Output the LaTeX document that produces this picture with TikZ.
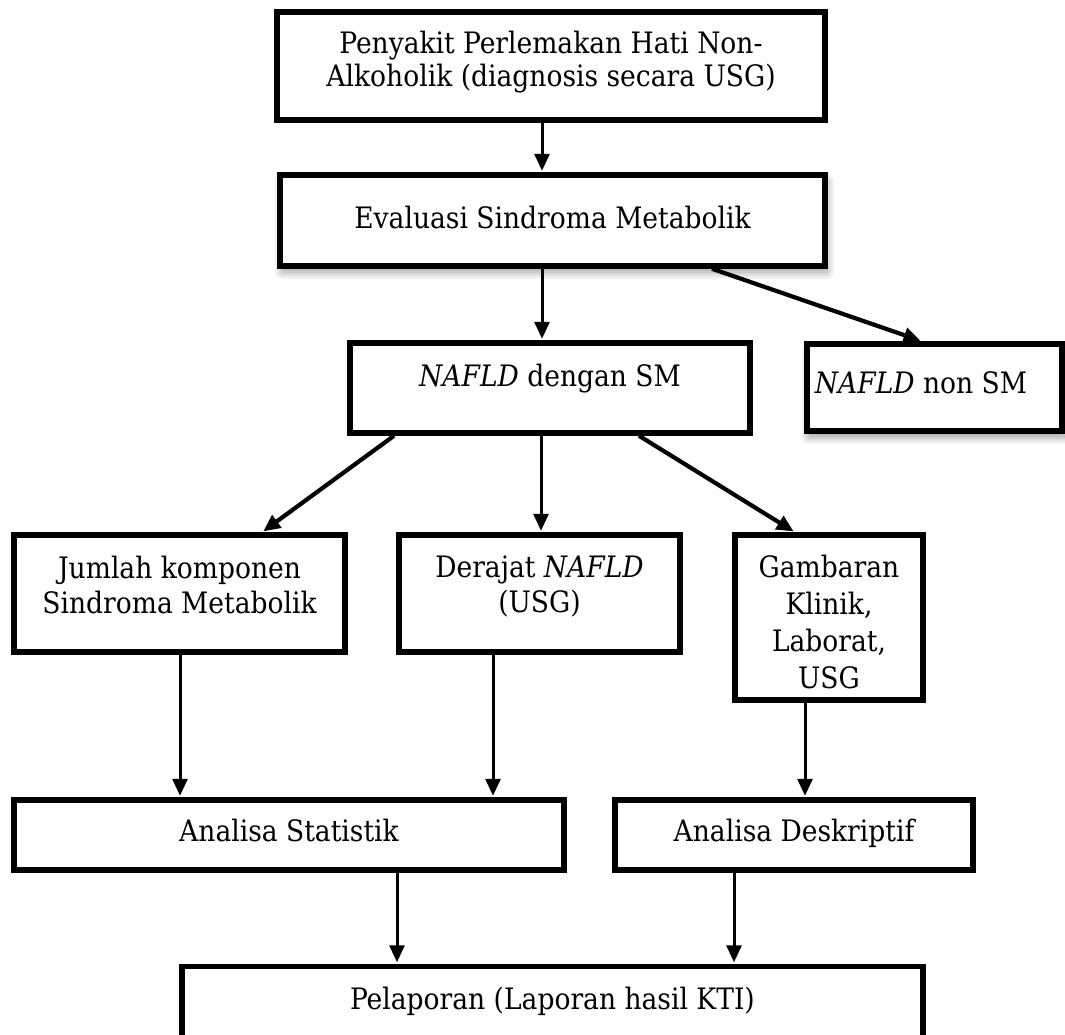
\documentclass[tikz,border=0pt]{standalone}
\usepackage{fontspec}
\setmainfont{DejaVu Serif Condensed}
\usetikzlibrary{arrows.meta,shadows.blur}
\tikzset{
  box/.style={draw, line width=5.5pt, fill=white, inner sep=0pt},
  softbox/.style={box, blur shadow={shadow xshift=2pt, shadow yshift=-6pt,
      shadow blur radius=8pt, shadow blur steps=12, shadow opacity=40}},
  txt/.style={inner sep=0pt, align=center, anchor=base,
      font=\fontsize{29.5}{35}\selectfont},
  arr/.style={line width=3pt, -{Triangle[length=17pt,width=15pt]}, shorten >=1.5pt},
  darr/.style={arr, line width=4.2pt}
}
\begin{document}
\begin{tikzpicture}[x=1pt, y=-1pt]
\useasboundingbox (0,0) rectangle (1065,1034);
\clip (0,0) rectangle (1065,1034);

% boxes
\node[box, minimum width=548, minimum height=108] (b1) at (551,66) {};
\node[softbox, minimum width=545, minimum height=91] (b2) at (552.5,220.5) {};
\node[box, minimum width=400, minimum height=90] (b3) at (550,388) {};
\node[softbox, minimum width=255, minimum height=87] (b4) at (934.5,387.5) {};
\node[box, minimum width=331, minimum height=117] (b5) at (179.5,593.5) {};
\node[box, minimum width=281, minimum height=117] (b6) at (539.5,593.5) {};
\node[box, minimum width=188, minimum height=165] (b7) at (829,617.5) {};
\node[box, minimum width=550, minimum height=70] (b8) at (289,835) {};
\node[box, minimum width=358, minimum height=70] (b9) at (794,835) {};
\node[box, minimum width=741, minimum height=91] (b10) at (552.5,1012) {};

% texts (multi-line texts sit on the baseline of their last line)
\node[txt, font=\fontsize{29.5}{33}\selectfont] (t1) at (551,86)
  {Penyakit Perlemakan Hati Non-\\Alkoholik (diagnosis secara USG)};
\node[txt] (t2) at (552.5,228) {Evaluasi Sindroma Metabolik};
\node[txt] (t3) at (550,386) {\textit{NAFLD} dengan SM};
\node[txt] (t4) at (921,393) {\textit{NAFLD} non SM};
\node[txt] (t5) at (179.5,613) {Jumlah komponen\\Sindroma Metabolik};
\node[txt] (t6) at (539.5,612) {Derajat \textit{NAFLD}\\(USG)};
\node[txt, font=\fontsize{29.5}{37}\selectfont] (t7) at (829,688)
  {Gambaran\\Klinik,\\Laborat,\\USG};
\node[txt] (t8) at (289,841) {Analisa Statistik};
\node[txt] (t9) at (794,841) {Analisa Deskriptif};
\node[txt] (t10) at (552.5,1009) {Pelaporan (Laporan hasil KTI)};

% connectors
\draw[arr] ([xshift=-9]b1.south) -- ([xshift=-10.5]b2.north);
\draw[arr] ([xshift=-10.5]b2.south) -- ([xshift=-8]b3.north);
\draw[darr] ([xshift=159.5]b2.south) -- ([xshift=-12.5]b4.north);
\draw[darr] ([xshift=-156]b3.south) -- ([xshift=82.5]b5.north);
\draw[arr] ([xshift=-9]b3.south) -- ([xshift=1.5]b6.north);
\draw[darr] ([xshift=89]b3.south) -- ([xshift=-34]b7.north);
\draw[arr] ([xshift=0.5]b5.south) -- ([xshift=-109]b8.north);
\draw[arr] ([xshift=-46.5]b6.south) -- ([xshift=204]b8.north);
\draw[arr] ([xshift=-24]b7.south) -- ([xshift=11]b9.north);
\draw[arr] ([xshift=108]b8.south) -- ([xshift=-155.5]b10.north);
\draw[arr] ([xshift=-60]b9.south) -- ([xshift=181.5]b10.north);
\end{tikzpicture}
\end{document}
